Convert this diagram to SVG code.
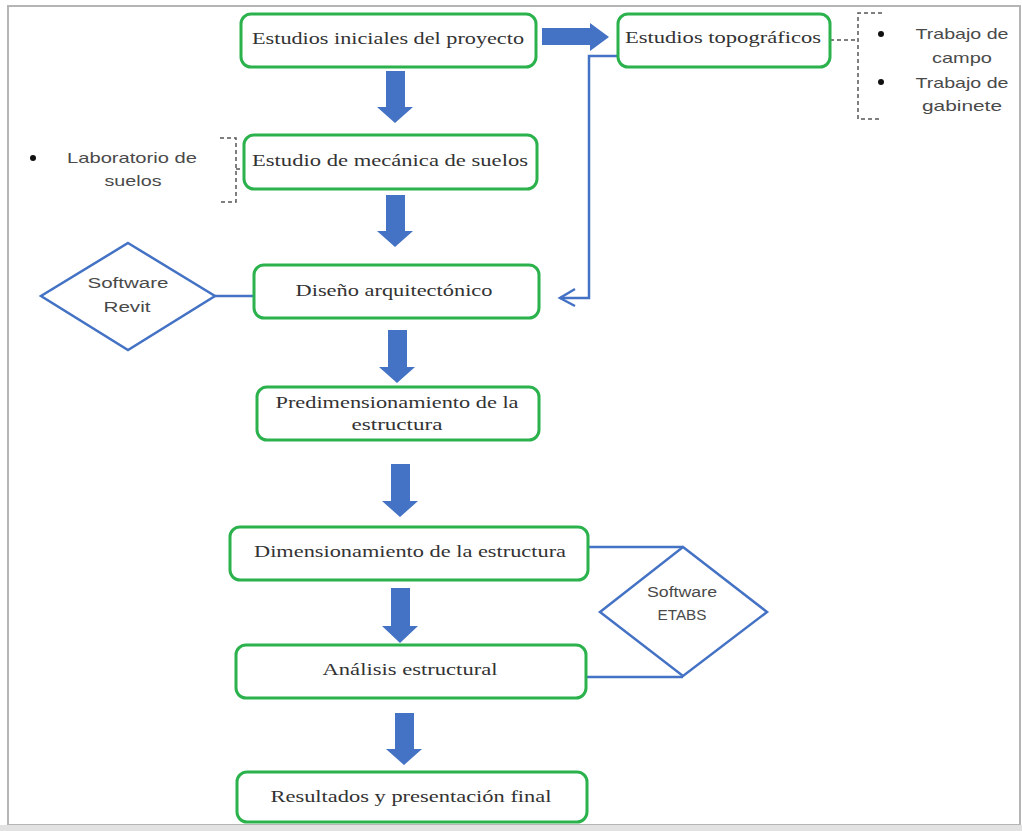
<svg xmlns="http://www.w3.org/2000/svg" width="1022" height="831" viewBox="0 0 1022 831">
<style>
.box{fill:#fff;stroke:#2bb24c;stroke-width:3}
.bt{font-family:"Liberation Serif","DejaVu Serif",serif;font-size:17px;fill:#333;text-anchor:middle}
.st{font-family:"Liberation Sans","DejaVu Sans",sans-serif;font-size:15px;fill:#4a4a4a;text-anchor:middle}
.dt{font-family:"Liberation Sans","DejaVu Sans",sans-serif;font-size:14px;fill:#4a4a4a;text-anchor:middle}
.arr{fill:#4472c4}
.ln{fill:none;stroke:#4472c4;stroke-width:2.5}
.dia{fill:#fff;stroke:#4472c4;stroke-width:2.5}
.brk{fill:none;stroke:#555;stroke-width:1.5;stroke-dasharray:4 3}
.dot{fill:#111}
</style>
<rect x="0" y="0" width="1022" height="831" fill="#fff"/>
<rect x="8" y="6" width="1012" height="819" fill="#fff" stroke="#b5b5b5" stroke-width="2"/>
<rect x="0" y="825" width="1022" height="6" fill="#e2e2e2"/>

<g id="connectors">
<path class="arr" d="M542 28 H590 V23 L609 37 L590 51 V45 H542 Z"/>
<path class="arr" d="M386 71 H405 V107 H413 L395 123 L377 107 H386 Z"/>
<path class="arr" d="M386 195 H405 V231 H413 L395 247 L377 231 H386 Z"/>
<path class="arr" d="M388 330 H407 V367 H415 L397 383 L379 367 H388 Z"/>
<path class="arr" d="M391 464 H410 V501 H418 L400 517 L382 501 H391 Z"/>
<path class="arr" d="M391 588 H410 V626 H418 L400 643 L382 626 H391 Z"/>
<path class="arr" d="M395 713 H414 V749 H422 L404 765 L386 749 H395 Z"/>
<path class="ln" d="M618 56 H589 V298 H560"/>
<path class="ln" d="M575 289 L560 298 L575 306"/>
<path class="ln" d="M215 296 H258"/>
<path class="ln" d="M588 547 H683"/>
<path class="ln" d="M586 677 H683"/>
<path class="brk" d="M830 40 H856"/>
<path class="brk" d="M882 13 H858 V119 H882"/>
<path class="brk" d="M220 138 H236 V202 H220"/>
<path class="brk" d="M236 169 H252" stroke-dasharray="none"/>
</g>

<g id="n1"><rect class="box" x="241" y="14" width="295" height="53" rx="10"/><text class="bt" x="388" y="44" textLength="272" lengthAdjust="spacingAndGlyphs">Estudios iniciales del proyecto</text></g>
<g id="n2"><rect class="box" x="618" y="14" width="212" height="53" rx="10"/><text class="bt" x="723" y="43" textLength="196" lengthAdjust="spacingAndGlyphs">Estudios topográficos</text></g>
<g id="n2notes">
<circle class="dot" cx="881" cy="34" r="3"/>
<circle class="dot" cx="881" cy="82" r="3"/>
<text class="st" x="962" y="39" textLength="93" lengthAdjust="spacingAndGlyphs">Trabajo de</text>
<text class="st" x="962" y="63" textLength="60" lengthAdjust="spacingAndGlyphs">campo</text>
<text class="st" x="962" y="88" textLength="93" lengthAdjust="spacingAndGlyphs">Trabajo de</text>
<text class="st" x="962" y="111" textLength="80" lengthAdjust="spacingAndGlyphs">gabinete</text>
</g>
<g id="n3"><rect class="box" x="244" y="135" width="293" height="54" rx="10"/><text class="bt" x="390" y="166" textLength="276" lengthAdjust="spacingAndGlyphs">Estudio de mecánica de suelos</text></g>
<g id="n3notes">
<circle class="dot" cx="33" cy="158" r="3"/>
<text class="st" x="132" y="163" textLength="130" lengthAdjust="spacingAndGlyphs">Laboratorio de</text>
<text class="st" x="133" y="186" textLength="57" lengthAdjust="spacingAndGlyphs">suelos</text>
</g>
<g id="n4"><rect class="box" x="254" y="265" width="285" height="53" rx="10"/><text class="bt" x="394" y="296" textLength="197" lengthAdjust="spacingAndGlyphs">Diseño arquitectónico</text></g>
<g id="revit"><path class="dia" d="M128 243 L215 296 L128 350 L41 296 Z"/><text class="dt" x="128" y="288" textLength="81" lengthAdjust="spacingAndGlyphs">Software</text><text class="dt" x="127" y="312" textLength="47" lengthAdjust="spacingAndGlyphs">Revit</text></g>
<g id="n5"><rect class="box" x="257" y="387" width="282" height="53" rx="10"/><text class="bt" x="397" y="408" textLength="243" lengthAdjust="spacingAndGlyphs">Predimensionamiento de la</text><text class="bt" x="397" y="430" textLength="91" lengthAdjust="spacingAndGlyphs">estructura</text></g>
<g id="n6"><rect class="box" x="230" y="527" width="358" height="53" rx="10"/><text class="bt" x="410" y="557" textLength="312" lengthAdjust="spacingAndGlyphs">Dimensionamiento de la estructura</text></g>
<g id="etabs"><path class="dia" d="M683 547 L767 612 L683 676 L600 612 Z"/><text class="dt" x="682" y="597" textLength="70" lengthAdjust="spacingAndGlyphs">Software</text><text class="dt" x="682" y="620" textLength="49" lengthAdjust="spacingAndGlyphs">ETABS</text></g>
<g id="n7"><rect class="box" x="236" y="645" width="350" height="53" rx="10"/><text class="bt" x="410" y="675" textLength="175" lengthAdjust="spacingAndGlyphs">Análisis estructural</text></g>
<g id="n8"><rect class="box" x="237" y="772" width="350" height="50" rx="10"/><text class="bt" x="411" y="802" textLength="281" lengthAdjust="spacingAndGlyphs">Resultados y presentación final</text></g>
</svg>
